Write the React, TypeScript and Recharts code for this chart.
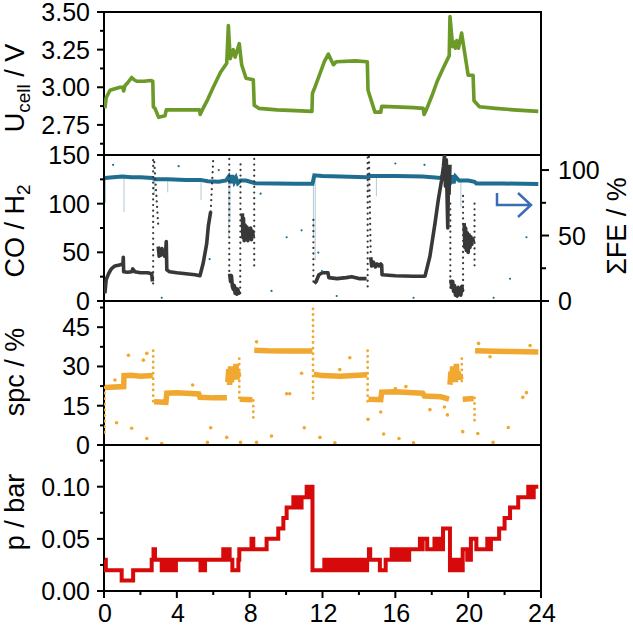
import React from "react";
import { ComposedChart, Line, Scatter, XAxis, YAxis, ReferenceArea, Label } from "recharts";

type Pt = [number, number | null];

// time axis, h
const hourTicks = [0, 2, 4, 6, 8, 10, 12, 14, 16, 18, 20, 22, 24];
const hourLabels = [0, 4, 8, 12, 16, 20, 24];

// U_cell / V
const uTicks = [2.625, 2.75, 2.875, 3.0, 3.125, 3.25, 3.375, 3.5];
const uLabels = [2.75, 3.0, 3.25, 3.5];
const voltage: Pt[] = [
  [0.05, 2.86], [0.12, 2.93], [0.33, 2.98], [0.6, 2.99], [0.88, 3.0], [1.02, 3.0], [1.08, 2.975],
  [1.15, 3.01], [1.3, 3.03], [1.52, 3.065], [1.65, 3.05], [1.8, 3.04], [2.2, 3.04], [2.55, 3.045],
  [2.68, 3.04], [2.71, 2.87], [2.8, 2.86], [3.0, 2.8], [3.35, 2.81], [3.42, 2.85], [4.0, 2.85],
  [4.8, 2.85], [5.25, 2.85], [5.28, 2.82], [5.4, 2.85], [5.7, 2.92], [6.0, 3.0], [6.4, 3.1],
  [6.74, 3.16], [6.83, 3.41], [6.93, 3.19], [7.1, 3.25], [7.2, 3.2], [7.43, 3.29], [7.56, 3.15],
  [7.8, 3.06], [8.2, 3.05], [8.25, 2.88], [8.5, 2.86], [9.5, 2.85], [10.5, 2.845], [11.42, 2.84],
  [11.45, 2.96], [11.55, 2.99], [11.86, 3.09], [12.1, 3.17], [12.32, 3.22], [12.6, 3.15],
  [12.75, 3.17], [13.8, 3.175], [14.46, 3.17], [14.5, 2.98], [14.88, 2.835], [15.2, 2.835],
  [15.25, 2.873], [16.0, 2.87], [17.0, 2.865], [17.53, 2.86], [17.58, 2.82], [17.7, 2.85],
  [18.0, 2.94], [18.3, 3.04], [18.6, 3.12], [18.96, 3.21], [19.0, 3.47], [19.15, 3.27],
  [19.25, 3.3], [19.3, 3.26], [19.37, 3.31], [19.47, 3.26], [19.64, 3.36], [20.0, 3.08],
  [20.27, 3.08], [20.32, 2.91], [20.62, 2.87], [21.5, 2.86], [22.5, 2.85], [23.85, 2.84],
];

// CO / H2 ratio (left) and sum of FE / % (right)
const ratioTicks = [0, 25, 50, 75, 100, 125, 150];
const ratioLabels = [0, 50, 100, 150];
const feTicks = [0, 25, 50, 75, 100];
const feLabels = [0, 50, 100];
const ratio: Pt[] = [
  [0.05, 8], [0.12, 22], [0.25, 28], [0.4, 33], [0.6, 36], [0.85, 37], [1.04, 38], [1.06, 45],
  [1.08, 30], [1.3, 29.5], [1.52, 30], [1.58, 33], [1.7, 30], [2.0, 29], [2.4, 29], [2.62, 28],
  [2.66, 20], [2.67, null],
  [2.98, 56], [3.03, 46], [3.08, 53], [3.13, 47], [3.18, 54], [3.23, 48], [3.28, 52], [3.33, 46],
  [3.38, 50], [3.42, 61], [3.45, 32], [3.6, 30], [4.0, 29], [4.5, 28], [5.0, 27], [5.27, 26],
  [5.45, 39], [5.64, 59], [5.73, 77], [5.86, 92], [5.87, null],
  [6.9, 28], [6.95, 20], [7.0, 26], [7.05, 15], [7.1, 12], [7.15, 16], [7.2, 8], [7.25, 13],
  [7.3, 7], [7.35, 12], [7.4, 8], [7.45, 10], [7.46, null],
  [7.6, 90], [7.63, 65], [7.66, 85], [7.7, 62], [7.75, 78], [7.8, 64], [7.85, 76], [7.9, 62],
  [7.95, 74], [8.0, 64], [8.05, 75], [8.1, 63], [8.15, 72], [8.2, 66], [8.21, null],
  [11.55, 18], [11.65, 20], [11.8, 27], [12.0, 29], [12.3, 29], [12.35, 24], [12.8, 23],
  [13.3, 24], [13.6, 25], [14.0, 23], [14.42, 23], [14.43, null],
  [14.65, 45], [14.7, 36], [14.8, 40], [14.9, 35], [15.0, 38], [15.1, 36], [15.2, 38], [15.25, 37],
  [15.27, 27], [16.0, 26], [17.0, 25.5], [17.63, 25.5], [17.9, 46], [18.18, 80], [18.36, 104],
  [18.54, 124], [18.64, 138], [18.7, 150], [18.75, 118], [18.8, 145], [18.85, 100], [18.88, 75],
  [18.92, 130], [18.95, 110], [19.0, 140], [19.01, null],
  [19.05, 22], [19.1, 14], [19.15, 20], [19.2, 10], [19.25, 16], [19.3, 6], [19.35, 12], [19.4, 5],
  [19.45, 14], [19.5, 7], [19.55, 12], [19.6, 6], [19.65, 15], [19.7, 10], [19.71, null],
  [19.78, 80], [19.82, 55], [19.86, 75], [19.9, 52], [19.95, 70], [20.0, 50], [20.05, 68],
  [20.1, 55], [20.15, 66], [20.2, 58], [20.25, 64], [20.3, 60],
];
const ratioJumps: Pt[] = [
  [2.7, 18], [2.7, 146], [2.75, 146], [2.98, 77], [2.99, null],
  [5.86, 92], [6.0, 146], [6.01, null],
  [6.88, 146], [6.88, 29], [6.89, null],
  [7.48, 8], [7.5, 146], [7.51, null],
  [8.25, 146], [8.25, 35], [8.26, null],
  [11.5, 20], [11.5, 84], [11.51, null],
  [14.48, 15], [14.48, 150], [14.55, 150], [14.62, 77], [14.65, 45], [14.66, null],
  [19.02, 100], [19.02, 10], [19.03, null],
  [19.72, 10], [19.72, 111], [19.73, null],
  [20.35, 100], [20.35, 35],
];
const feBand: Pt[] = [
  [0.05, 94], [0.5, 94.5], [1.0, 95], [1.5, 94.5], [2.0, 94.5], [2.65, 94], [2.8, 93], [3.5, 93],
  [4.5, 92.5], [5.3, 92.5], [5.7, 91.5], [6.3, 91], [6.7, 92], [6.85, 95], [6.95, 90], [7.05, 96],
  [7.15, 91], [7.25, 94], [7.35, 90], [7.5, 92], [7.8, 92], [8.3, 90], [9.5, 89.7], [10.5, 89.5],
  [11.45, 89.5], [11.55, 96], [12.0, 95.5], [13.0, 95], [14.4, 94.5], [14.6, 95.5], [16.0, 95.5],
  [17.5, 95], [18.5, 94], [18.7, 97], [18.8, 91], [18.9, 98], [19.0, 89], [19.1, 96], [19.2, 90],
  [19.3, 95], [19.5, 92], [20.0, 92], [20.35, 91], [20.45, 89.7], [22.0, 89.7], [23.85, 89.3],
];
const feSpikes: Pt[] = [
  [0.08, 94], [0.08, 75], [0.09, null],
  [1.1, 95], [1.1, 68], [1.11, null],
  [2.77, 93], [2.77, 81], [2.78, null],
  [3.5, 93], [3.5, 83], [3.51, null],
  [5.33, 92], [5.33, 77], [5.34, null],
  [6.85, 92], [6.85, 49], [6.86, null],
  [6.92, 92], [6.92, 60], [6.93, null],
  [11.5, 94], [11.5, 49], [11.51, null],
  [11.6, 95], [11.6, 31], [11.61, null],
  [14.5, 95], [14.5, 84], [14.51, null],
  [14.96, 95], [14.96, 80], [14.97, null],
  [18.9, 94], [18.9, 60], [18.91, null],
  [19.6, 93], [19.6, 72],
];
const feStray: Pt[] = [
  [3.17, 2.5], [5.8, 32], [10.03, 48.7], [10.85, 54], [9.2, 7.7], [0.5, 104], [12.78, 3.8],
  [17.0, 2.5], [21.4, 2.5], [22.3, 17], [23.2, 48.7], [11.77, 37], [16.0, 105], [17.6, 104],
  [11.97, 22.8], [4.1, 103], [6.3, 100], [8.6, 82],
];

// spc / %
const spcTicks = [0, 7.5, 15, 22.5, 30, 37.5, 45, 52.5];
const spcLabels = [0, 15, 30, 45];
const spcBand: Pt[] = [
  [0.05, 22], [1.08, 22.3], [1.1, 26.5], [1.5, 26.6], [2.0, 26.3], [2.68, 26.5], [2.69, null],
  [2.75, 16.5], [3.4, 16.3], [3.45, 19.8], [4.0, 20], [4.5, 19.8], [5.2, 19.5], [5.27, 18.2],
  [6.0, 18], [6.75, 18], [6.76, null],
  [6.8, 24], [6.85, 29], [6.9, 23], [6.95, 30], [7.0, 24], [7.05, 28], [7.1, 25], [7.15, 29],
  [7.2, 26], [7.25, 31], [7.3, 25], [7.35, 28], [7.4, 26], [7.41, null],
  [7.45, 17.5], [8.15, 17.3], [8.16, null],
  [8.25, 36.2], [9.0, 36], [10.0, 35.9], [11.45, 35.9], [11.46, null],
  [11.52, 27], [12.0, 26.5], [13.0, 26.3], [14.45, 26.8], [14.46, null],
  [14.52, 17.5], [15.2, 17.3], [15.25, 20.2], [16.0, 20.3], [17.0, 20], [17.5, 19.8],
  [17.6, 18.7], [18.5, 18.4], [18.95, 17.5], [18.96, null],
  [19.0, 23], [19.05, 28], [19.1, 24], [19.15, 30], [19.2, 25], [19.25, 29], [19.3, 24],
  [19.35, 31], [19.4, 26], [19.45, 28], [19.5, 25], [19.55, 27], [19.6, 25], [19.61, null],
  [19.7, 17.5], [20.3, 17.8], [20.31, null],
  [20.38, 36], [21.5, 35.8], [22.5, 35.7], [23.85, 35.5],
];
const spcJumps: Pt[] = [
  [0.03, 22], [0.03, 3], [0.04, null],
  [2.7, 36], [2.7, 16], [2.71, null],
  [7.43, 33], [7.43, 17], [7.44, null],
  [8.2, 17], [8.2, 10], [8.21, null],
  [11.48, 52], [11.48, 16], [11.49, null],
  [14.48, 36], [14.48, 15], [14.49, null],
  [19.65, 33], [19.65, 24], [19.66, null],
  [20.35, 18], [20.35, 8],
];
const spcStray: Pt[] = [
  [1.34, 34.3], [0.6, 24.8], [0.69, 8.5], [1.52, 6.4], [2.16, 32.4], [2.35, 35], [2.35, 2.5],
  [3.17, 0.6], [4.87, 22.9], [5.86, 6.6], [5.68, 1], [6.74, 2.9], [7.5, 1], [8.38, 39.4],
  [8.38, 1], [9.2, 3.4], [10.03, 19.6], [10.2, 19.6], [10.85, 27.4], [11.0, 6.6], [11.86, 2.9],
  [12.68, 0.8], [13.5, 33.3], [12.95, 28.8], [14.5, 9.8], [15.2, 12.6], [15.36, 4.2], [16.2, 2.5],
  [17.0, 0.8], [16.0, 21.6], [16.58, 22.3], [17.9, 13.5], [18.7, 14.5], [18.86, 11.5], [19.7, 5.1],
  [20.53, 4.4], [21.2, 33.7], [21.37, 1], [22.2, 6.7], [23.0, 18.2], [23.2, 20], [23.4, 38],
  [20.57, 38.8],
];

// p / bar
const pTicks = [0, 0.025, 0.05, 0.075, 0.1, 0.125];
const pLabels = [0, 0.05, 0.1];
const pressure: Pt[] = [
  [0.05, 0.03], [0.1, 0.02], [0.97, 0.01], [1.6, 0.02], [2.62, 0.03], [2.72, 0.04], [2.8, 0.03],
  [3.17, 0.02], [3.25, 0.03], [3.35, 0.02], [3.42, 0.03], [3.5, 0.02], [3.6, 0.03], [3.68, 0.02],
  [3.78, 0.03], [3.85, 0.02], [3.95, 0.03], [5.3, 0.02], [5.38, 0.03], [5.45, 0.02], [5.55, 0.03],
  [6.55, 0.04], [6.75, 0.03], [6.8, 0.04], [6.9, 0.03], [7.05, 0.02], [7.38, 0.03], [7.43, 0.04],
  [8.1, 0.05], [8.2, 0.04], [8.93, 0.05], [9.57, 0.06], [9.85, 0.07], [10.03, 0.08], [10.4, 0.09],
  [10.5, 0.08], [10.6, 0.09], [10.75, 0.08], [10.85, 0.09], [11.13, 0.1], [11.25, 0.09],
  [11.32, 0.1], [11.45, 0.02], [12.1, 0.03], [12.2, 0.02], [12.28, 0.03], [12.36, 0.02],
  [12.45, 0.03], [12.55, 0.02], [12.62, 0.03], [12.68, 0.02], [12.85, 0.03], [12.95, 0.02],
  [13.05, 0.03], [13.15, 0.02], [13.25, 0.03], [13.35, 0.02], [13.45, 0.03], [13.55, 0.02],
  [13.65, 0.03], [13.75, 0.02], [13.85, 0.03], [13.95, 0.02], [14.05, 0.03], [14.15, 0.02],
  [14.25, 0.03], [14.35, 0.02], [14.45, 0.03], [14.55, 0.04], [14.62, 0.03], [15.15, 0.02],
  [15.47, 0.03], [15.8, 0.04], [15.88, 0.03], [15.96, 0.04], [16.05, 0.03], [16.12, 0.04],
  [16.2, 0.03], [16.28, 0.04], [16.36, 0.03], [16.44, 0.04], [16.52, 0.03], [16.6, 0.04],
  [16.68, 0.03], [16.76, 0.04], [17.35, 0.05], [17.45, 0.04], [17.5, 0.05], [17.75, 0.04],
  [18.15, 0.05], [18.35, 0.04], [18.45, 0.05], [18.55, 0.04], [18.62, 0.06], [19.0, 0.02],
  [19.1, 0.03], [19.15, 0.02], [19.3, 0.03], [19.35, 0.02], [19.5, 0.03], [19.55, 0.02],
  [19.7, 0.04], [19.95, 0.03], [20.15, 0.05], [20.45, 0.04], [21.05, 0.05], [21.15, 0.04],
  [21.25, 0.05], [21.7, 0.06], [22.0, 0.07], [22.3, 0.08], [22.75, 0.09], [23.3, 0.1],
  [23.4, 0.09], [23.45, 0.1], [23.55, 0.09], [23.6, 0.1], [23.85, 0.1],
];

const W = 633;
const H = 626;
const FONT = "'Liberation Sans', Arial, Helvetica, sans-serif";
const GREEN = "#6b9a28";
const TEAL = "#1f6d90";
const DARK = "#383838";
const ORANGE = "#f0a830";
const RED = "#d60a0a";

const rows = (pts: Pt[]) => pts.map(([t, v]) => ({ t, v }));
const isMajor = (list: number[], v: number) => list.some((m) => Math.abs(m - v) < 1e-6);
const tickText = { fontFamily: FONT, fontSize: 25, fill: "#000" };

function leftTick(majors: number[], fmt: (v: number) => string) {
  return (p: any) => {
    const v = p.payload.value;
    const major = isMajor(majors, v);
    return (
      <g>
        <line x1={p.x} y1={p.y} x2={p.x - (major ? 7 : 4)} y2={p.y} stroke="#000" strokeWidth={2} />
        {major && (
          <text x={p.x - 14} y={p.y} dy="0.36em" textAnchor="end" {...tickText}>
            {fmt(v)}
          </text>
        )}
      </g>
    );
  };
}

function rightTick(majors: number[]) {
  return (p: any) => {
    const v = p.payload.value;
    const major = isMajor(majors, v);
    return (
      <g>
        <line x1={p.x} y1={p.y} x2={p.x + (major ? 8 : 5)} y2={p.y} stroke="#000" strokeWidth={2} />
        {major && (
          <text x={p.x + 17} y={p.y} dy="0.36em" textAnchor="start" {...tickText}>
            {v}
          </text>
        )}
      </g>
    );
  };
}

const hourTick = (p: any) => {
  const v = p.payload.value;
  const major = hourLabels.includes(v);
  return (
    <g>
      <line x1={p.x} y1={p.y} x2={p.x} y2={p.y + (major ? 7 : 4)} stroke="#000" strokeWidth={2} />
      {major && (
        <text x={p.x + 1} y={p.y + 31} textAnchor="middle" {...tickText}>
          {v}
        </text>
      )}
    </g>
  );
};

function title(cx: number, cy: number, main: string, sub?: string, tail?: string) {
  return () => (
    <text
      transform={`rotate(-90 ${cx} ${cy})`}
      x={cx}
      y={cy}
      textAnchor="middle"
      fontFamily={FONT}
      fontSize={27}
      fill="#000"
    >
      {main}
      {sub && (
        <tspan fontSize={19} dy={6}>
          {sub}
        </tspan>
      )}
      {tail && <tspan dy={sub ? -6 : 0}>{tail}</tspan>}
    </text>
  );
}

const dotShape = (r: number, color: string) => (p: any) =>
  <circle cx={p.cx} cy={p.cy} r={r} fill={color} />;

const box = { fill: "none", stroke: "#000", strokeWidth: 2, ifOverflow: "visible" as const };
const layer: React.CSSProperties = { position: "absolute", left: 0, top: 0 };
const dotted = { strokeDasharray: "0.1 5.5", strokeLinecap: "round" as const };

function hiddenX() {
  return <XAxis type="number" dataKey="t" domain={[0, 24]} ticks={hourTicks} hide allowDataOverflow />;
}

export default function App() {
  return (
    <div style={{ position: "absolute", left: 0, top: 0, width: W, height: H, background: "#fff" }}>
      {/* cell voltage */}
      <div style={layer}>
        <ComposedChart width={W} height={H} margin={{ top: 12, right: 92, bottom: H - 155, left: 0 }}>
          {hiddenX()}
          <YAxis
            type="number"
            domain={[2.55, 3.5]}
            ticks={uTicks}
            interval={0}
            width={104}
            axisLine={false}
            tickLine={false}
            tickSize={0}
            tickMargin={0}
            tick={leftTick(uLabels, (v) => v.toFixed(2))}
            allowDataOverflow
          >
            <Label content={title(24, 88, "U", "cell", " / V")} />
          </YAxis>
          <ReferenceArea x1={0} x2={24} y1={2.55} y2={3.5} {...box} />
          <Line
            data={rows(voltage)}
            dataKey="v"
            type="linear"
            stroke={GREEN}
            strokeWidth={3.6}
            strokeLinejoin="round"
            dot={false}
            isAnimationActive={false}
          />
        </ComposedChart>
      </div>

      {/* CO / H2 and sum FE */}
      <div style={layer}>
        <ComposedChart width={W} height={H} margin={{ top: 155, right: 0, bottom: H - 301, left: 0 }}>
          {hiddenX()}
          <YAxis
            yAxisId="left"
            type="number"
            domain={[0, 150]}
            ticks={ratioTicks}
            interval={0}
            width={104}
            axisLine={false}
            tickLine={false}
            tickSize={0}
            tickMargin={0}
            tick={leftTick(ratioLabels, (v) => String(v))}
            allowDataOverflow
          >
            <Label content={title(24, 231, "CO / H", "2")} />
          </YAxis>
          <YAxis
            yAxisId="right"
            orientation="right"
            type="number"
            domain={[0, 111.5]}
            ticks={feTicks}
            interval={0}
            width={92}
            axisLine={false}
            tickLine={false}
            tickSize={0}
            tickMargin={0}
            tick={rightTick(feLabels)}
            allowDataOverflow
          >
            <Label content={title(626, 226, "ΣFE / %")} />
          </YAxis>
          <ReferenceArea yAxisId="left" x1={0} x2={24} y1={0} y2={150} {...box} />
          <Line
            yAxisId="right"
            data={rows(feSpikes)}
            dataKey="v"
            stroke={TEAL}
            strokeWidth={0.8}
            strokeOpacity={0.45}
            dot={false}
            isAnimationActive={false}
          />
          <Scatter
            yAxisId="right"
            data={rows(feStray)}
            dataKey="v"
            shape={dotShape(1.1, TEAL)}
            isAnimationActive={false}
          />
          <Line
            yAxisId="right"
            data={rows(feBand)}
            dataKey="v"
            stroke={TEAL}
            strokeWidth={4}
            dot={false}
            isAnimationActive={false}
          />
          <Line
            yAxisId="left"
            data={rows(ratioJumps)}
            dataKey="v"
            stroke={DARK}
            strokeWidth={2.2}
            {...dotted}
            dot={false}
            isAnimationActive={false}
          />
          <Line
            yAxisId="left"
            data={rows(ratio)}
            dataKey="v"
            stroke={DARK}
            strokeWidth={3.6}
            strokeLinejoin="round"
            dot={false}
            isAnimationActive={false}
          />
        </ComposedChart>
      </div>

      {/* spc */}
      <div style={layer}>
        <ComposedChart width={W} height={H} margin={{ top: 301, right: 92, bottom: H - 445, left: 0 }}>
          {hiddenX()}
          <YAxis
            type="number"
            domain={[0, 55]}
            ticks={spcTicks}
            interval={0}
            width={104}
            axisLine={false}
            tickLine={false}
            tickSize={0}
            tickMargin={0}
            tick={leftTick(spcLabels, (v) => String(v))}
            allowDataOverflow
          >
            <Label content={title(24, 372, "spc / %")} />
          </YAxis>
          <ReferenceArea x1={0} x2={24} y1={0} y2={55} {...box} />
          <Scatter data={rows(spcStray)} dataKey="v" shape={dotShape(1.8, ORANGE)} isAnimationActive={false} />
          <Line
            data={rows(spcJumps)}
            dataKey="v"
            stroke={ORANGE}
            strokeWidth={2.8}
            {...dotted}
            dot={false}
            isAnimationActive={false}
          />
          <Line
            data={rows(spcBand)}
            dataKey="v"
            stroke={ORANGE}
            strokeWidth={5.5}
            dot={false}
            isAnimationActive={false}
          />
        </ComposedChart>
      </div>

      {/* pressure */}
      <div style={layer}>
        <ComposedChart width={W} height={H} margin={{ top: 445, right: 92, bottom: 0, left: 0 }}>
          <XAxis
            type="number"
            dataKey="t"
            domain={[0, 24]}
            ticks={hourTicks}
            interval={0}
            height={35}
            axisLine={false}
            tickLine={false}
            tickSize={0}
            tickMargin={0}
            tick={hourTick}
            allowDataOverflow
          />
          <YAxis
            type="number"
            domain={[0, 0.14]}
            ticks={pTicks}
            interval={0}
            width={104}
            axisLine={false}
            tickLine={false}
            tickSize={0}
            tickMargin={0}
            tick={leftTick(pLabels, (v) => v.toFixed(2))}
            allowDataOverflow
          >
            <Label content={title(24, 512, "p / bar")} />
          </YAxis>
          <ReferenceArea x1={0} x2={24} y1={0} y2={0.14} {...box} />
          <Line
            data={rows(pressure)}
            dataKey="v"
            type="stepAfter"
            stroke={RED}
            strokeWidth={4}
            dot={false}
            isAnimationActive={false}
          />
        </ComposedChart>
      </div>

      {/* arrow pointing at the right axis */}
      <svg width={W} height={H} style={{ ...layer, pointerEvents: "none" }}>
        <path d="M497 193 V205 H531 M518 193 L531 205 L518 217" fill="none" stroke="#3a6db4" strokeWidth={2.5} />
      </svg>
    </div>
  );
}
